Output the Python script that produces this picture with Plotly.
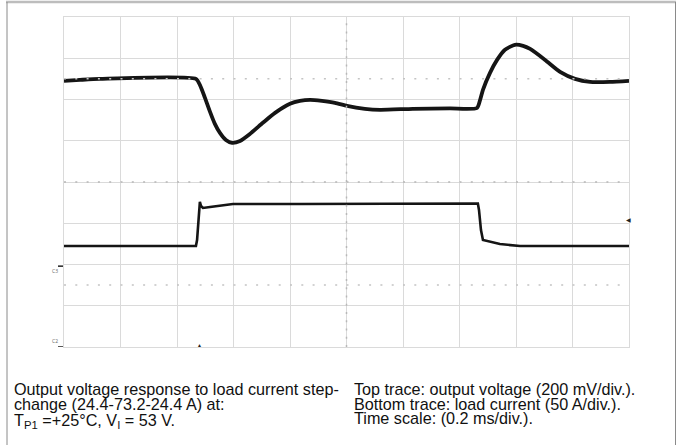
import plotly.graph_objects as go

# 오실로스코프 화면 데이터 (시간: ms, 0.2 ms/div)
# 위 트레이스: 출력 전압 편차 (mV, 200 mV/div)
v_time = [0.000, 0.057, 0.127, 0.467, 0.481, 0.499, 0.517, 0.534, 0.552, 0.573,
          0.595, 0.623, 0.658, 0.704, 0.747, 0.800, 0.835, 0.871, 0.913, 0.959,
          1.002, 1.065, 1.119, 1.235, 1.366, 1.462, 1.473, 1.483, 1.508, 1.533,
          1.561, 1.596, 1.625, 1.650, 1.703, 1.756, 1.809, 1.862, 1.933, 2.000]
v_mv = [-10, -5, 0, 0, -29, -92, -160, -218, -262, -296,
        -310, -301, -267, -213, -165, -121, -107, -102, -107, -116,
        -131, -145, -150, -145, -143, -141, -102, -53, 29, 92,
        141, 165, 160, 145, 92, 34, 0, -15, -15, -10]

# 아래 트레이스: 부하 전류 (A, 50 A/div)
i_time = [0.000, 0.467, 0.471, 0.478, 0.481, 0.485, 0.492, 0.517, 0.598, 0.835,
          1.189, 1.465, 1.469, 1.476, 1.483, 1.508, 1.543, 1.614, 2.000]
i_amp = [24.4, 24.4, 31.7, 70.5, 77.8, 72.9, 70.5, 71.7, 75.3, 75.3,
         75.9, 75.9, 68.1, 43.8, 31.7, 29.3, 26.8, 24.4, 24.4]

# 캡션 텍스트
caption_left = ['Output voltage response to load current step-',
                'change (24.4-73.2-24.4 A) at:',
                'T<sub>P1</sub> =+25°C, V<sub>I</sub> = 53 V.']
caption_right = ['Top trace: output voltage (200 mV/div.).',
                 'Bottom trace: load current (50 A/div.).',
                 'Time scale: (0.2 ms/div.).']

W, H = 683, 445
grid_col = '#dadada'
cap_font = dict(family='Liberation Sans, Arial', size=16.2, color='#111111')


def px(x):
    return x / W


def py(y):
    return 1 - y / H


fig = go.Figure()
fig.add_trace(go.Scatter(x=v_time, y=v_mv, mode='lines', yaxis='y',
                         line=dict(color='#151515', width=3.8, shape='spline', smoothing=0.6),
                         showlegend=False, hoverinfo='skip'))
fig.add_trace(go.Scatter(x=i_time, y=i_amp, mode='lines', yaxis='y2',
                         line=dict(color='#151515', width=2.6),
                         showlegend=False, hoverinfo='skip'))

shapes = []
# 중앙 점선 (눈금)
shapes.append(dict(type='line', xref='x', yref='y', x0=0, x1=2, y0=-500, y1=-500,
                   line=dict(color='#b8b8b8', width=1.5, dash='2px,9.3px')))
shapes.append(dict(type='line', xref='x', yref='y', x0=0, x1=2, y0=0, y1=0,
                   line=dict(color='#c4c4c4', width=1.5, dash='2px,9.3px')))
shapes.append(dict(type='line', xref='x', yref='y', x0=0, x1=2, y0=-1000, y1=-1000,
                   line=dict(color='#c4c4c4', width=1.5, dash='2px,9.3px')))
shapes.append(dict(type='line', xref='x', yref='y', x0=1.0, x1=1.0, y0=-1300, y1=300,
                   line=dict(color='#b8b8b8', width=1.5, dash='2px,6.25px')))

# 바깥 테두리
shapes.append(dict(type='line', xref='paper', yref='paper', x0=px(6), x1=px(676), y0=py(2), y1=py(2),
                   line=dict(color='#bdbdbd', width=2.5)))
shapes.append(dict(type='line', xref='paper', yref='paper', x0=px(7), x1=px(7), y0=py(2), y1=py(446),
                   line=dict(color='#8a8a8a', width=1)))
shapes.append(dict(type='line', xref='paper', yref='paper', x0=px(675.5), x1=px(675.5), y0=py(2), y1=py(446),
                   line=dict(color='#8a8a8a', width=1)))

# 채널 마커
shapes.append(dict(type='line', xref='paper', yref='y2', x0=px(58), x1=px(63), y0=0, y1=0,
                   line=dict(color='#222222', width=1.5)))
shapes.append(dict(type='line', xref='paper', yref='y', x0=px(58), x1=px(63), y0=-1300, y1=-1300,
                   line=dict(color='#222222', width=1.5)))

annotations = []
for k, line in enumerate(caption_left):
    # 아래첨자가 있는 줄은 박스가 커지므로 조금 내려줌
    shift = -3 if '<sub>' in line else 0
    annotations.append(dict(x=px(12), y=py(389 + 14.5 * k), xref='paper', yref='paper',
                            text=line, showarrow=False, xanchor='left', yanchor='middle',
                            yshift=shift, font=cap_font))
for k, line in enumerate(caption_right):
    annotations.append(dict(x=px(352), y=py(389 + 14.5 * k), xref='paper', yref='paper',
                            text=line, showarrow=False, xanchor='left', yanchor='middle',
                            font=cap_font))

annotations.append(dict(x=px(60), y=0, xref='paper', yref='y2', text='C3', showarrow=False,
                        yshift=-5, xanchor='right', font=dict(size=5, color='#666666')))
annotations.append(dict(x=px(60), y=-1300, xref='paper', yref='y', text='C2', showarrow=False,
                        yshift=6, xanchor='right', font=dict(size=5, color='#666666')))
annotations.append(dict(x=i_time[3], y=py(350), xref='x', yref='paper', text='▲', showarrow=False,
                        font=dict(size=5, color='#222222')))
annotations.append(dict(x=px(633), y=py(220), xref='paper', yref='paper', text='◀', showarrow=False,
                        font=dict(size=6, color='#222222')))

fig.update_layout(
    width=W, height=H,
    margin=dict(l=0, r=0, t=0, b=0),
    paper_bgcolor='white', plot_bgcolor='white',
    showlegend=False,
    xaxis=dict(domain=[px(64), px(629)], range=[0, 2], dtick=0.2, tick0=0,
               showgrid=True, gridcolor=grid_col, gridwidth=1, zeroline=False,
               showticklabels=False, ticks='', showline=True, mirror=True,
               linecolor=grid_col, linewidth=1),
    yaxis=dict(domain=[py(347), py(17)], range=[-1300, 300], dtick=200, tick0=-1300,
               showgrid=True, gridcolor=grid_col, gridwidth=1, zeroline=False,
               showticklabels=False, ticks='', showline=True, mirror=True,
               linecolor=grid_col, linewidth=1),
    yaxis2=dict(domain=[py(347), py(17)], range=[-98, 302], overlaying='y',
                showgrid=False, zeroline=False, showticklabels=False, ticks=''),
    shapes=shapes,
    annotations=annotations,
)

# 페이지 기본 여백 제거 (그림이 창의 왼쪽 위에 붙도록), 모드바 숨김
fig.write_html("out.html", config={'displayModeBar': False},
               post_script="document.body.style.margin='0px';")
